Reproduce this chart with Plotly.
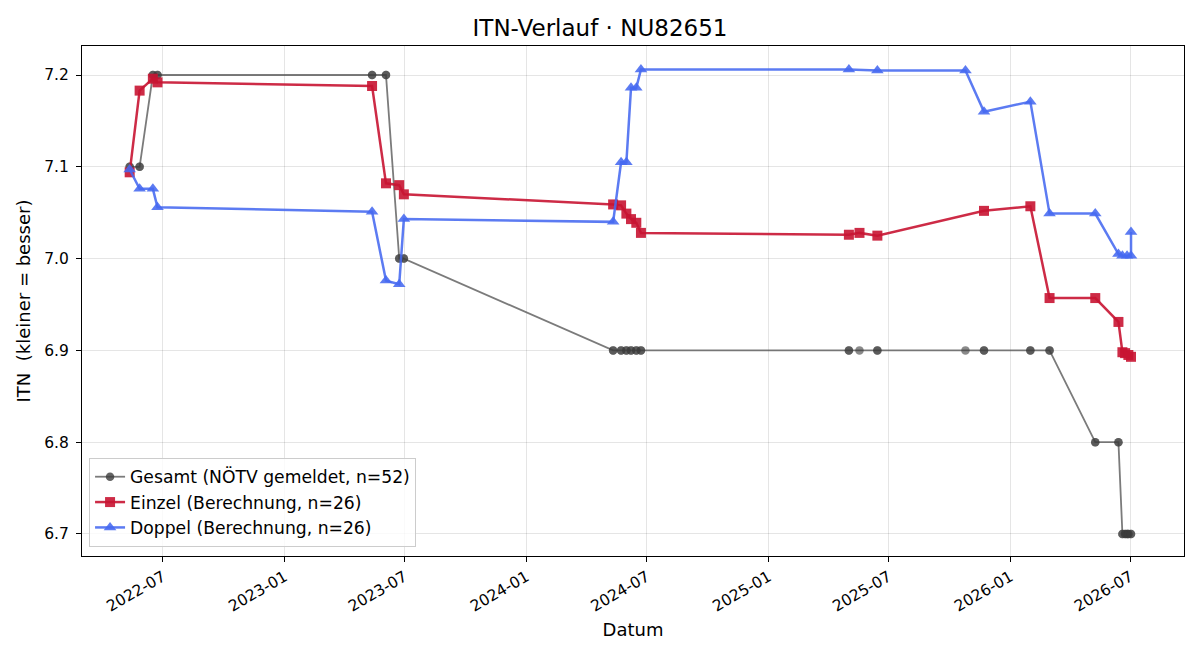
import plotly.graph_objects as go

# ---- data ----
einzel_dates = ["2022-05-12", "2022-05-27", "2022-06-16", "2022-06-23",
                "2023-05-13", "2023-06-03", "2023-06-23", "2023-06-30",
                "2024-05-11", "2024-05-23", "2024-05-31", "2024-06-07", "2024-06-15", "2024-06-22",
                "2025-05-02", "2025-05-18", "2025-06-14", "2025-11-22",
                "2026-01-31", "2026-03-01", "2026-05-09", "2026-06-13",
                "2026-06-19", "2026-06-23", "2026-06-28", "2026-07-02"]
einzel_itn = [7.094, 7.183, 7.196, 7.192,
              7.188, 7.082, 7.080, 7.070,
              7.059, 7.058, 7.049, 7.043, 7.039, 7.028,
              7.026, 7.028, 7.025, 7.052,
              7.057, 6.957, 6.957, 6.931,
              6.898, 6.897, 6.895, 6.893]

doppel_dates = ["2022-05-12", "2022-05-27", "2022-06-16", "2022-06-23",
                "2023-05-13", "2023-06-03", "2023-06-23", "2023-06-30",
                "2024-05-11", "2024-05-23", "2024-05-31", "2024-06-07", "2024-06-15", "2024-06-22",
                "2025-05-02", "2025-06-14", "2025-10-25", "2025-11-22",
                "2026-01-31", "2026-03-01", "2026-05-09", "2026-06-13",
                "2026-06-19", "2026-06-26", "2026-07-02", "2026-07-02"]
doppel_itn = [7.097, 7.076, 7.076, 7.056,
              7.051, 6.976, 6.972, 7.043,
              7.040, 7.105, 7.105, 7.186, 7.186, 7.206,
              7.206, 7.205, 7.205, 7.160,
              7.171, 7.049, 7.049, 7.005,
              7.003, 7.003, 7.003, 7.029]

gesamt_dates = ["2022-05-12", "2022-05-27", "2022-06-16", "2022-06-23",
                "2023-05-13", "2023-06-03", "2023-06-23", "2023-06-30",
                "2024-05-11", "2024-05-23", "2024-05-31", "2024-06-07", "2024-06-15", "2024-06-22",
                "2025-05-02", "2025-05-18", "2025-06-14", "2025-10-25", "2025-11-22",
                "2026-01-31", "2026-03-01", "2026-05-09", "2026-06-13",
                "2026-06-19", "2026-06-23", "2026-06-26", "2026-06-28", "2026-07-02"]
gesamt_itn = [7.1, 7.1, 7.2, 7.2,
              7.2, 7.2, 7.0, 7.0,
              6.9, 6.9, 6.9, 6.9, 6.9, 6.9,
              6.9, 6.9, 6.9, 6.9, 6.9,
              6.9, 6.9, 6.8, 6.8,
              6.7, 6.7, 6.7, 6.7, 6.7]
# dates that carry two reports (Einzel + Doppel)
gesamt_double = [True, True, True, True,
                 True, True, True, True,
                 True, True, True, True, True, True,
                 True, False, True, False, True,
                 True, True, True, True,
                 True, True, True, True, True]

# build gesamt series with duplicates
g_x, g_y = [], []
for d, v, dbl in zip(gesamt_dates, gesamt_itn, gesamt_double):
    g_x.append(d); g_y.append(v)
    if dbl:
        g_x.append(d); g_y.append(v)

title_text = "ITN-Verlauf · NU82651"
font_family = "DejaVu Sans"

fig = go.Figure()
fig.add_trace(go.Scatter(
    x=gesamt_dates, y=gesamt_itn, mode="lines",
    line=dict(color="rgba(90,90,90,0.8)", width=1.8),
    showlegend=False, hoverinfo="skip"))
fig.add_trace(go.Scatter(
    x=g_x, y=g_y, mode="markers",
    marker=dict(color="rgba(60,60,60,0.6)", size=8.5, symbol="circle"),
    showlegend=False))
# legend proxy for gesamt
fig.add_trace(go.Scatter(
    x=[None], y=[None], mode="lines+markers",
    name="Gesamt (NÖTV gemeldet, n=52)",
    line=dict(color="rgba(90,90,90,0.8)", width=1.8),
    marker=dict(color="rgba(60,60,60,0.8)", size=8.5)))
fig.add_trace(go.Scatter(
    x=einzel_dates, y=einzel_itn, mode="lines+markers",
    name="Einzel (Berechnung, n=26)",
    line=dict(color="rgba(200,20,50,0.9)", width=2.5),
    marker=dict(color="rgba(200,20,50,0.9)", size=10, symbol="square")))
fig.add_trace(go.Scatter(
    x=doppel_dates, y=doppel_itn, mode="lines+markers",
    name="Doppel (Berechnung, n=26)",
    line=dict(color="rgba(70,105,240,0.88)", width=2.5),
    marker=dict(color="rgba(70,105,240,0.88)", size=11, symbol="triangle-up")))

fig.update_layout(
    width=1200, height=660,
    paper_bgcolor="white", plot_bgcolor="white",
    margin=dict(l=82, r=16, t=46, b=104),
    font=dict(family=font_family, size=16.5, color="black"),
    title=dict(text=title_text, x=0.5, xanchor="center", y=0.957, yanchor="middle",
               font=dict(size=23, family=font_family)),
    legend=dict(x=0.0064, y=0.0176, xanchor="left", yanchor="bottom",
                bgcolor="rgba(255,255,255,0.8)", bordercolor="#cccccc", borderwidth=1,
                font=dict(size=17.2, family=font_family), tracegroupgap=0),
    showlegend=True,
)
fig.update_xaxes(
    range=["2022-03-01", "2026-09-20"],
    tickformat="%Y-%m", dtick="M6", tick0="2022-01-01", tickangle=-30,
    tickfont=dict(size=15.5),
    showgrid=True, gridcolor="rgba(0,0,0,0.1)", gridwidth=1,
    showline=True, linecolor="black", linewidth=1, mirror=True,
    ticks="outside", ticklen=5, tickcolor="black",
    title=dict(text="Datum", font=dict(size=18), standoff=8),
    zeroline=False,
)
fig.update_yaxes(
    range=[6.676, 7.2316],
    tickvals=[6.7, 6.8, 6.9, 7.0, 7.1, 7.2], tickformat=".1f",
    tickfont=dict(size=15.5), ticklabelstandoff=4,
    showgrid=True, gridcolor="rgba(0,0,0,0.1)", gridwidth=1,
    showline=True, linecolor="black", linewidth=1, mirror=True,
    ticks="outside", ticklen=5, tickcolor="black",
    title=dict(text="ITN  (kleiner = besser)", font=dict(size=18), standoff=8),
    zeroline=False,
)

fig.write_html("out.html")
